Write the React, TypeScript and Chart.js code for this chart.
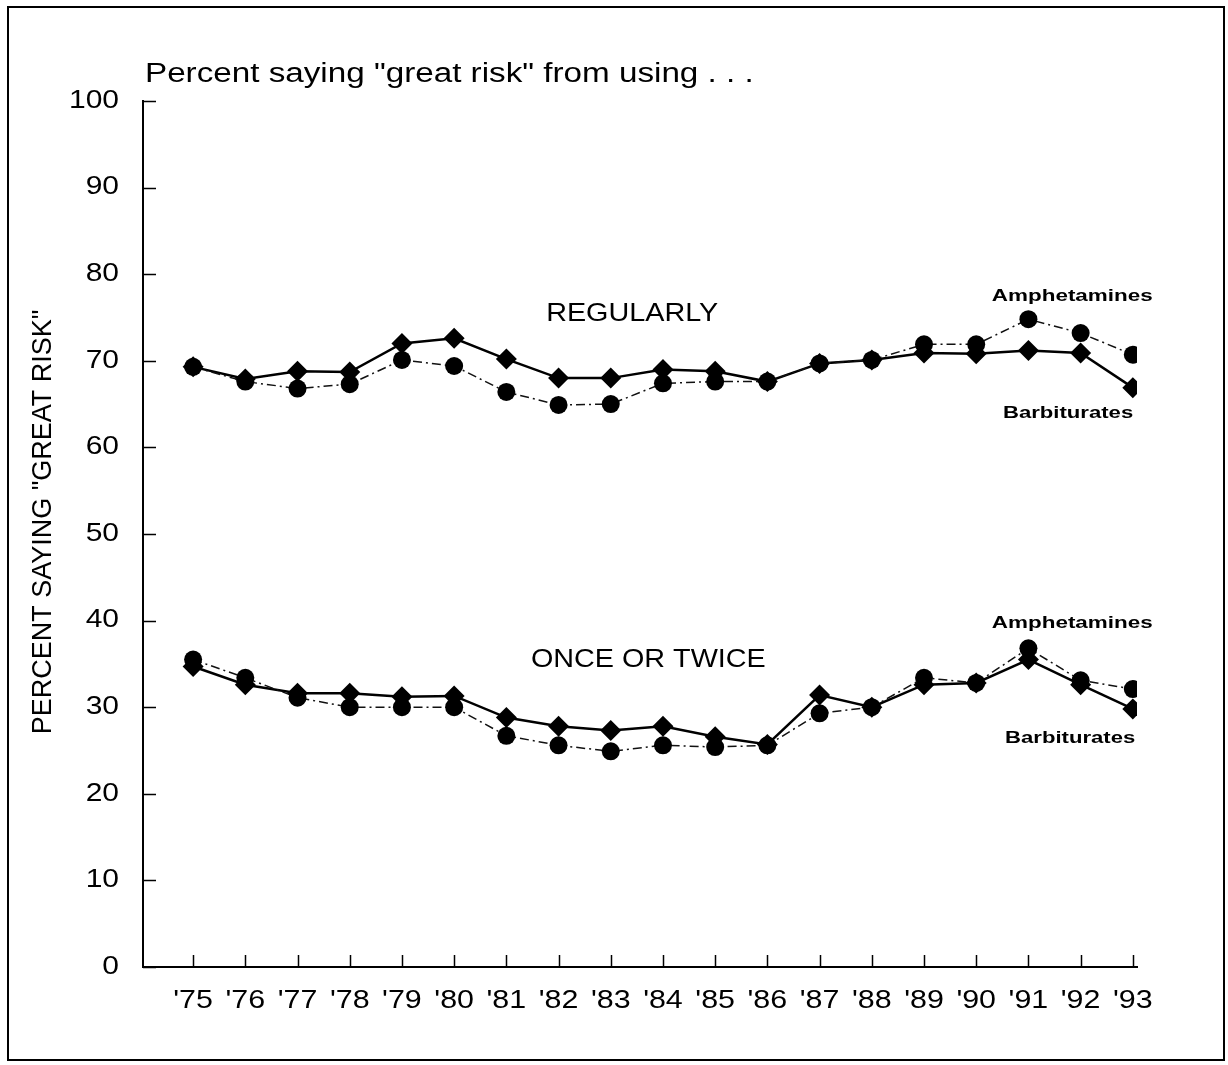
import React, { useEffect, useRef } from "react";
import { Chart, registerables } from "chart.js";

Chart.register(...registerables);

const years = ["'75", "'76", "'77", "'78", "'79", "'80", "'81", "'82", "'83", "'84", "'85", "'86", "'87", "'88", "'89", "'90", "'91", "'92", "'93"];
const regularlyAmphetamines = [69.3, 67.6, 66.8, 67.3, 70.1, 69.4, 66.4, 64.9, 65.0, 67.4, 67.6, 67.6, 69.7, 70.1, 71.9, 71.9, 74.8, 73.2, 70.7];
const regularlyBarbiturates = [69.3, 67.9, 68.8, 68.7, 72.0, 72.6, 70.2, 68.0, 68.0, 69.0, 68.8, 67.6, 69.7, 70.1, 70.9, 70.8, 71.2, 70.9, 66.9];
const onceAmphetamines = [35.5, 33.4, 31.1, 30.0, 30.0, 30.0, 26.7, 25.6, 24.9, 25.6, 25.4, 25.6, 29.3, 30.0, 33.4, 32.8, 36.8, 33.1, 32.1];
const onceBarbiturates = [34.7, 32.6, 31.6, 31.6, 31.2, 31.3, 28.8, 27.8, 27.3, 27.8, 26.6, 25.7, 31.4, 30.0, 32.6, 32.8, 35.5, 32.6, 29.8];
const yTicks = [0, 10, 20, 30, 40, 50, 60, 70, 80, 90, 100];

const chartTitle = 'Percent saying "great risk" from using . . .';
const yTitle = 'PERCENT SAYING "GREAT RISK"';
const labels = [
  { text: "REGULARLY", x: 8.41, y: 75.4, bold: false, size: 25, sx: 1.15 },
  { text: "ONCE OR TWICE", x: 8.72, y: 35.4, bold: false, size: 25, sx: 1.15 },
  { text: "Amphetamines", x: 16.84, y: 77.5, bold: true, size: 17, sx: 1.32 },
  { text: "Barbiturates", x: 16.76, y: 63.9, bold: true, size: 17, sx: 1.3 },
  { text: "Amphetamines", x: 16.84, y: 39.7, bold: true, size: 17, sx: 1.32 },
  { text: "Barbiturates", x: 16.8, y: 26.4, bold: true, size: 17, sx: 1.3 },
];

const FONT = "'Liberation Sans', Arial, sans-serif";

const pts = (arr: number[]) => arr.map((v, i) => ({ x: i, y: v }));

function stretchedText(ctx: CanvasRenderingContext2D, text: string, x: number, y: number, sx: number) {
  ctx.save();
  ctx.translate(x, y);
  ctx.scale(sx, 1);
  ctx.fillText(text, 0, 0);
  ctx.restore();
}

const decorPlugin = {
  id: "decor",
  afterDraw(chart: any) {
    const ctx = chart.ctx as CanvasRenderingContext2D;
    const xs = chart.scales.x;
    const ys = chart.scales.y;
    const area = chart.chartArea;
    ctx.save();
    // outer frame
    ctx.strokeStyle = "#000";
    ctx.lineWidth = 2;
    ctx.strokeRect(8, 7, 1216, 1053);
    // inward ticks
    ctx.lineWidth = 1.5;
    ctx.beginPath();
    yTicks.forEach((v) => {
      const py = Math.round(ys.getPixelForValue(v)) + 0.5;
      ctx.moveTo(area.left, py);
      ctx.lineTo(area.left + 13, py);
    });
    years.forEach((_, i) => {
      const px = Math.round(xs.getPixelForValue(i)) + 0.5;
      ctx.moveTo(px, area.bottom);
      ctx.lineTo(px, area.bottom - 12);
    });
    ctx.stroke();
    ctx.fillStyle = "#000";
    // y tick labels
    ctx.font = `25px ${FONT}`;
    ctx.textAlign = "right";
    ctx.textBaseline = "middle";
    yTicks.forEach((v) => {
      stretchedText(ctx, String(v), area.left - 24, ys.getPixelForValue(v), 1.2);
    });
    // x tick labels
    ctx.font = `26px ${FONT}`;
    ctx.textAlign = "center";
    years.forEach((lab, i) => {
      stretchedText(ctx, lab, xs.getPixelForValue(i), 1001, 1.17);
    });
    // title
    ctx.font = `27px ${FONT}`;
    ctx.textAlign = "left";
    ctx.textBaseline = "alphabetic";
    stretchedText(ctx, chartTitle, area.left + 2, 82, 1.23);
    // y title
    ctx.save();
    ctx.translate(44, 522);
    ctx.rotate(-Math.PI / 2);
    ctx.font = `27px ${FONT}`;
    ctx.textAlign = "center";
    ctx.textBaseline = "middle";
    ctx.fillText(yTitle, 0, 0);
    ctx.restore();
    // annotations
    labels.forEach((l) => {
      ctx.font = `${l.bold ? "bold " : ""}${l.size}px ${FONT}`;
      ctx.textAlign = "center";
      ctx.textBaseline = "middle";
      stretchedText(ctx, l.text, xs.getPixelForValue(l.x), ys.getPixelForValue(l.y), l.sx);
    });
    ctx.restore();
  },
};

export default function App() {
  const ref = useRef<HTMLCanvasElement | null>(null);
  useEffect(() => {
    if (!ref.current) return;
    const amphStyle = {
      borderColor: "#111",
      backgroundColor: "#000",
      borderWidth: 1.5,
      borderDash: [9, 4, 2, 4],
      pointStyle: "circle",
      pointRadius: 9,
      pointBorderWidth: 0,
      pointBackgroundColor: "#000",
      tension: 0,
    };
    const barbStyle = {
      borderColor: "#000",
      backgroundColor: "#000",
      borderWidth: 2.5,
      pointStyle: "rectRot",
      pointRadius: 10.5,
      pointBorderWidth: 0,
      pointBackgroundColor: "#000",
      tension: 0,
    };
    const chart = new Chart(ref.current, {
      type: "line",
      data: {
        datasets: [
          { label: "Regularly Amphetamines", data: pts(regularlyAmphetamines), ...amphStyle },
          { label: "Regularly Barbiturates", data: pts(regularlyBarbiturates), ...barbStyle },
          { label: "Once or twice Amphetamines", data: pts(onceAmphetamines), ...amphStyle },
          { label: "Once or twice Barbiturates", data: pts(onceBarbiturates), ...barbStyle },
        ] as any,
      },
      options: {
        animation: false,
        responsive: false,
        maintainAspectRatio: false,
        layout: { padding: { left: 0, right: 91, top: 101, bottom: 0 } },
        plugins: { legend: { display: false }, tooltip: { enabled: false }, title: { display: false } },
        scales: {
          x: {
            type: "linear",
            min: -0.96,
            max: 18.08,
            afterBuildTicks: (scale: any) => {
              scale.ticks = years.map((_, i) => ({ value: i }));
            },
            afterFit: (scale: any) => {
              scale.height = 98;
            },
            ticks: { display: false },
            grid: { display: true, drawOnChartArea: false, drawTicks: false },
            border: { display: true, color: "#000", width: 2 },
          },
          y: {
            type: "linear",
            min: 0,
            max: 100,
            afterBuildTicks: (scale: any) => {
              scale.ticks = yTicks.map((v) => ({ value: v }));
            },
            afterFit: (scale: any) => {
              scale.width = 143;
            },
            ticks: { display: false },
            grid: { display: true, drawOnChartArea: false, drawTicks: false },
            border: { display: true, color: "#000", width: 2 },
          },
        },
      },
      plugins: [decorPlugin],
    } as any);
    return () => chart.destroy();
  }, []);
  return (
    <div style={{ position: "fixed", left: 0, top: 0, width: 1228, height: 1065, background: "#fff" }}>
      <canvas ref={ref} width={1228} height={1065} style={{ width: 1228, height: 1065, display: "block" }} />
    </div>
  );
}
